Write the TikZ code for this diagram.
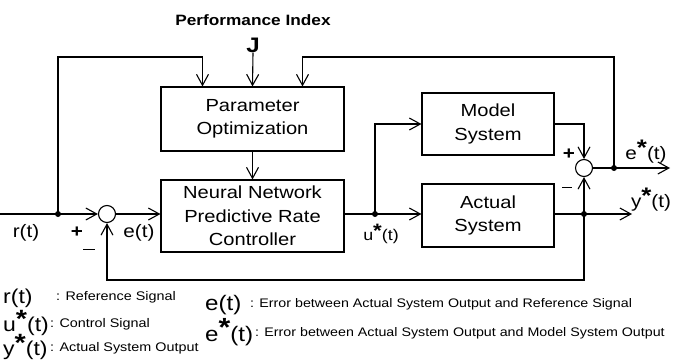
\documentclass[tikz,border=0pt]{standalone}
\usepackage{fontspec}
\setmainfont{Liberation Sans}[FakeStretch=1.15]
\usetikzlibrary{arrows.meta,calc}
\newcommand\stR{\raisebox{0.22em}{\scalebox{1.25}{\bfseries *}}}
\newcommand\mns{\rule[0.3em]{0.65em}{1.4pt}}
\begin{document}
\begin{tikzpicture}[x=1pt,y=-1pt,
  blk/.style={draw, line width=1.1pt, align=center, inner sep=0pt, font=\fontsize{17.5}{23.5}\selectfont},
  sumc/.style={draw, circle, line width=1.1pt, minimum size=17pt, inner sep=0pt},
  dotn/.style={circle, fill, minimum size=6pt, inner sep=0pt},
  ln/.style={line width=1.1pt},
  ar/.style={ln, -{Straight Barb[length=11pt,width=12pt,line width=1.1pt]}},
  lbl/.style={font=\fontsize{18}{20}\selectfont, inner sep=0pt},
  sgn/.style={font=\bfseries\fontsize{18}{20}\selectfont, inner sep=0pt},
  lsml/.style={font=\fontsize{15.5}{17}\selectfont, inner sep=0pt},
  legsym/.style={anchor=west, font=\fontsize{20}{21}\selectfont, inner sep=0pt},
  legtxt/.style={anchor=west, font=\fontsize{12.5}{13}\selectfont, inner sep=0pt},
  legtxtb/.style={anchor=west, font=\fontsize{12.4}{14}\selectfont, inner sep=0pt}
]
\useasboundingbox (0,0) rectangle (676,361);
\node[blk, minimum width=183pt, minimum height=64pt] (po) at (252.5,119) {Parameter\\Optimization};
\node[blk, minimum width=183pt, minimum height=72pt] (nn) at (252.5,216) {Neural Network\\Predictive Rate\\Controller};
\node[blk, minimum width=132pt, minimum height=62pt] (ms) at (488,124) {Model\\System};
\node[blk, minimum width=132pt, minimum height=63pt] (as) at (488,215.5) {Actual\\System};
\node[sumc] (s1) at (107,214) {};
\node[sumc] (s2) at (584,168) {};
\node[dotn] (d1) at (58,214) {};
\node[dotn] (du) at (375,214) {};
\node[dotn] (dy) at (584,214) {};
\node[dotn] (de) at (614,168) {};
\coordinate (rin) at (0,214);
\coordinate (yout) at (632,214);
\coordinate (eout) at (670,168);
\coordinate (topy) at (0,57);
\coordinate (boty) at (0,280);
\coordinate (pl) at ([xshift=-50pt]po.north);
\coordinate (pr) at ([xshift=50pt]po.north);
\node[font=\bfseries\fontsize{15}{16}\selectfont, inner sep=0pt] (pi) at (253,20) {Performance Index};
\node[font=\bfseries\fontsize{21}{22}\selectfont, inner sep=0pt] (J) at (253,45) {J};

\draw[ln] (rin) -- (d1.center);
\draw[ar] (d1.center) -- (s1.west);
\draw[ar] (d1.center) -- (d1 |- topy) -| (pl);
\draw[ar] (J.south) -- (po.north);
\draw[ar] (de.center) -- (de |- topy) -| (pr);
\draw[ar] (po.south) -- (nn.north);
\draw[ar] (s1.east) -- (s1.east -| nn.west);
\draw[ln] (nn.east |- du) -- (du.center);
\draw[ar] (du.center) -- (as.west |- du);
\draw[ar] (du.center) |- (ms.west);
\draw[ln] (as.east |- dy) -- (dy.center);
\draw[ar] (dy.center) -- (yout);
\draw[ar] (dy.center) -- (s2.south);
\draw[ar] (ms.east) -| (s2.north);
\draw[ln] (s2.east) -- (de.center);
\draw[ar] (de.center) -- (eout);
\draw[ar] (dy.center) -- (dy |- boty) -| (s1.south);

\node[lbl] at (26,233) {r(t)};
\node[sgn] at (77,232) {+};
\node[sgn] at (89,252) {\mns};
\node[lbl] at (139,233) {e(t)};
\node[lsml] at (381,234) {u\stR(t)};
\node[lbl] at (651,200) {y\stR(t)};
\node[lbl] at (646,152) {e\stR(t)};
\node[sgn] at (569,154) {+};
\node[sgn, font=\bfseries\fontsize{15}{16}\selectfont] at (567,190) {\mns};

\node[legsym] at (3,298) {r(t)};
\node[legtxt] at (56,297) {: Reference Signal};
\node[legsym] at (3,323) {u\stR(t)};
\node[legtxt] at (50,324) {: Control Signal};
\node[legsym] at (3,347) {y\stR(t)};
\node[legtxt] at (50,348) {: Actual System Output};
\node[legsym, font=\fontsize{21}{22}\selectfont] at (205,305) {e(t)};
\node[legtxtb] at (250,304) {: Error between Actual System Output and Reference Signal};
\node[legsym, font=\fontsize{21}{22}\selectfont] at (205,332) {e\stR(t)};
\node[legtxtb] at (255,333) {: Error between Actual System Output and Model System Output};
\end{tikzpicture}
\end{document}
